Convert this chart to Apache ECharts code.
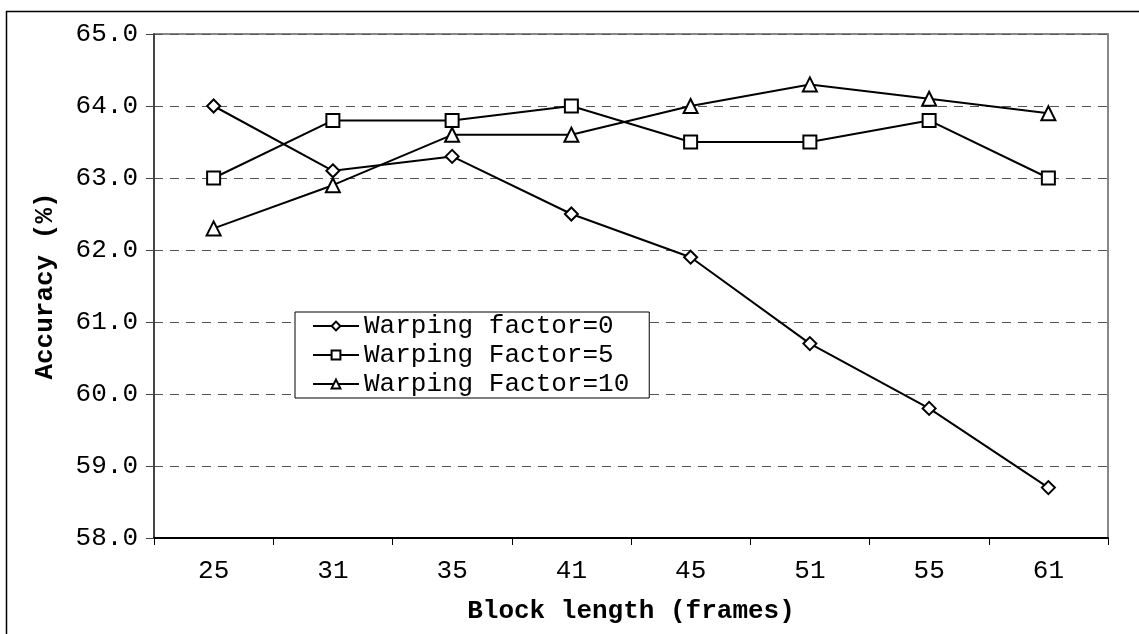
<!DOCTYPE html>
<html>
<head>
<meta charset="utf-8">
<script src="https://cdn.jsdelivr.net/npm/echarts@6/dist/echarts.min.js"></script>
<style>
html,body{margin:0;padding:0;background:#fff;}
#chart{width:1139px;height:634px;}
</style>
</head>
<body>
<div id="chart"></div>
<script>
var categories = ['25','31','35','41','45','51','55','61'];
var seriesNames = ['Warping factor=0','Warping Factor=5','Warping Factor=10'];
var wf0 = [64.0, 63.1, 63.3, 62.5, 61.9, 60.7, 59.8, 58.7];
var wf5 = [63.0, 63.8, 63.8, 64.0, 63.5, 63.5, 63.8, 63.0];
var wf10 = [62.3, 62.9, 63.6, 63.6, 64.0, 64.3, 64.1, 63.9];
var yTitle = 'Accuracy (%)';
var xTitle = 'Block length (frames)';

var FONT = '"Liberation Mono", "Courier New", monospace';
var chart = echarts.init(document.getElementById('chart'), null, {renderer:'canvas'});

function mk(name, data, symbol, size) {
  return {
    name: name, type: 'line', data: data,
    symbol: symbol, symbolSize: size,
    showAllSymbol: true,
    lineStyle: {color:'#000', width:2},
    itemStyle: {color:'#fff', borderColor:'#000', borderWidth:2},
    emphasis: {disabled:true},
    animation: false, z: 5
  };
}

chart.setOption({
  animation: false,
  backgroundColor: '#fff',
  graphic: [
    {type:'rect', shape:{x:6.5, y:11.5, width:1200, height:700}, style:{fill:'none', stroke:'#000', lineWidth:1.5}, z:-10}
  ],
  grid: {left:154, right:31, top:34, bottom:96, show:true, borderColor:'#888', borderWidth:2, backgroundColor:'transparent'},
  legend: {
    orient:'vertical', left:295, top:312,
    data: seriesNames,
    itemWidth:46, itemHeight:11, itemGap:3,
    padding:[1,20,1,17],
    backgroundColor:'#fff', borderColor:'#000', borderWidth:1,
    textStyle:{fontFamily:FONT, fontSize:26, color:'#000'},
    z: 10
  },
  xAxis: {
    type:'category', data: categories, boundaryGap:true,
    name: xTitle, nameLocation:'middle', nameGap:60,
    nameTextStyle:{fontFamily:FONT, fontSize:26, fontWeight:'bold', color:'#000'},
    axisLine:{lineStyle:{color:'#000', width:2}},
    axisTick:{show:true, length:7, lineStyle:{color:'#000', width:1}, alignWithLabel:false},
    axisLabel:{fontFamily:FONT, fontSize:26, color:'#000', margin:20},
    splitLine:{show:false}
  },
  yAxis: {
    type:'value', min:58, max:65, interval:1,
    name: yTitle, nameLocation:'middle', nameGap:96, nameRotate:90,
    nameTextStyle:{fontFamily:FONT, fontSize:26, fontWeight:'bold', color:'#000'},
    axisLine:{show:true, lineStyle:{color:'#444', width:2}},
    axisTick:{show:true, length:8, lineStyle:{color:'#444', width:1}},
    axisLabel:{fontFamily:FONT, fontSize:26, color:'#000', margin:16, formatter:function(v){return v.toFixed(1);}},
    splitLine:{show:true, lineStyle:{color:'#555', width:1, type:[9,7]}}
  },
  series: [
    mk(seriesNames[0], wf0, 'diamond', 13),
    mk(seriesNames[1], wf5, 'rect', 13),
    mk(seriesNames[2], wf10, 'triangle', 14)
  ]
});
</script>
</body>
</html>
